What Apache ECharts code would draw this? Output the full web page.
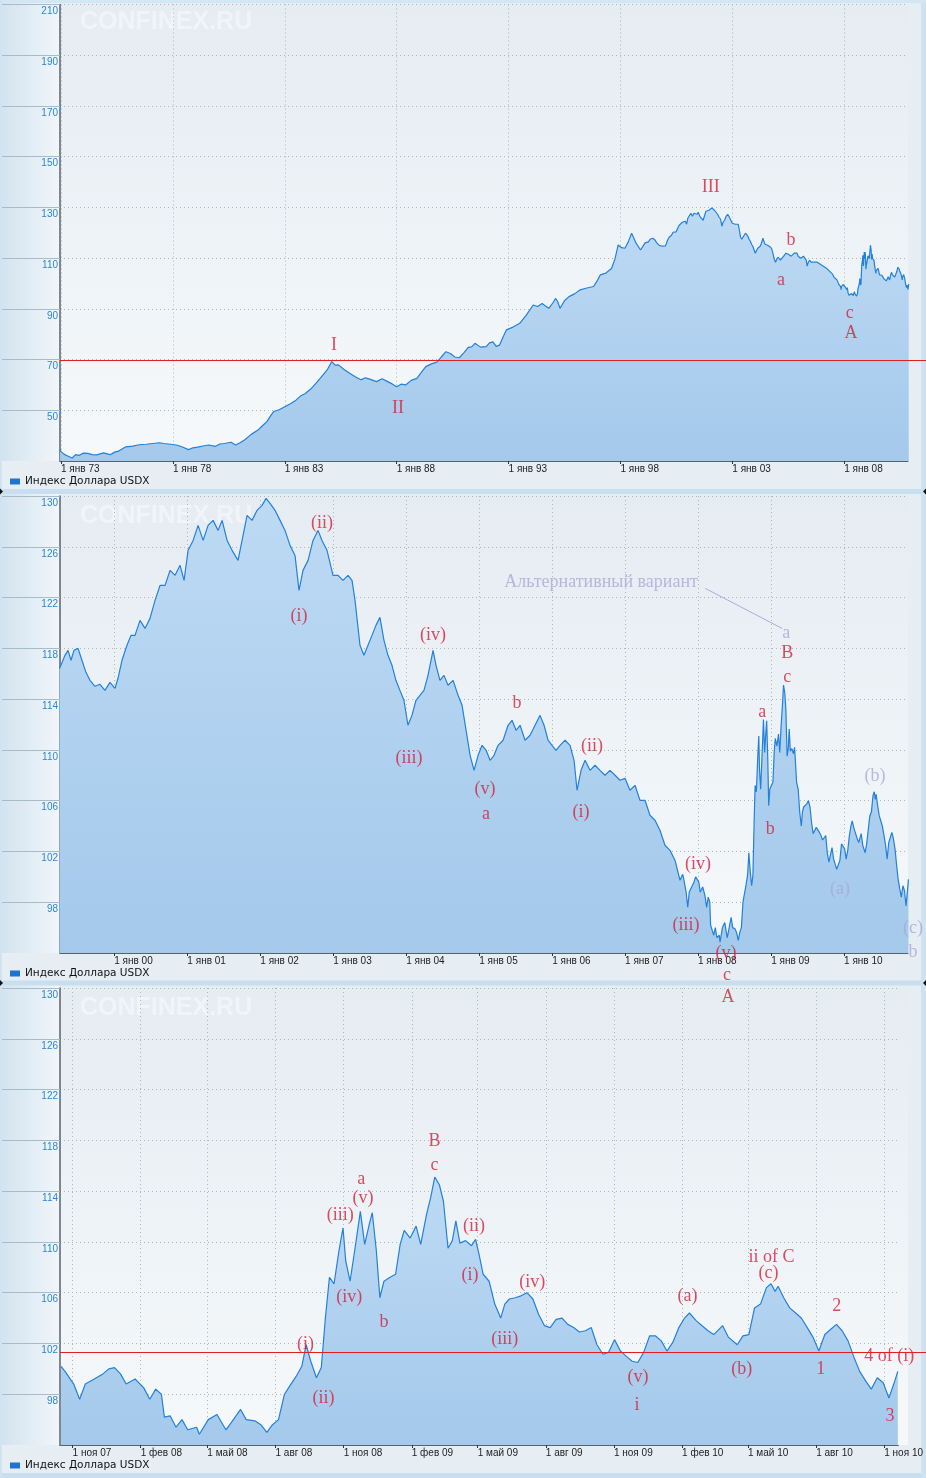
<!DOCTYPE html>
<html><head><meta charset="utf-8">
<script src="https://cdn.jsdelivr.net/npm/echarts@6/dist/echarts.min.js"></script>
<style>html,body{margin:0;padding:0;background:#e6eef4;}#c{width:926px;height:1478px;}</style>
</head><body><div id="c"></div>
<script>
// ---------------- DATA ----------------
const SERIES_NAME = 'Индекс Доллара USDX';
const MONTHS = ['янв','фев','мар','апр','май','июн','июл','авг','сен','окт','ноя','дек'];

// 1973 - 1999 (decimal years)
const longYears = [1972.96,1973.0,1973.15,1973.3,1973.5,1973.65,1973.8,1974.0,1974.2,1974.4,1974.6,1974.9,1975.2,1975.4,1975.6,1975.9,1976.2,1976.5,1976.8,1977.1,1977.4,1977.6,1978.0,1978.2,1978.4,1978.7,1978.9,1979.1,1979.4,1979.6,1979.9,1980.1,1980.3,1980.6,1980.8,1981.0,1981.2,1981.5,1981.8,1982.0,1982.2,1982.35,1982.5,1982.75,1983.0,1983.25,1983.5,1983.7,1983.9,1984.2,1984.45,1984.7,1984.9,1985.1,1985.25,1985.4,1985.65,1985.9,1986.15,1986.4,1986.6,1986.8,1987.1,1987.35,1987.6,1987.8,1988.0,1988.2,1988.4,1988.65,1988.9,1989.1,1989.3,1989.55,1989.8,1990.0,1990.2,1990.4,1990.6,1990.8,1991.0,1991.2,1991.35,1991.5,1991.75,1992.0,1992.15,1992.3,1992.45,1992.6,1992.75,1992.9,1993.2,1993.5,1993.8,1994.1,1994.3,1994.5,1994.65,1994.8,1995.0,1995.1,1995.2,1995.3,1995.5,1995.7,1995.95,1996.2,1996.5,1996.8,1996.95,1997.1,1997.35,1997.6,1997.75,1997.9,1998.05,1998.2,1998.35,1998.5,1998.7,1998.9,1999.1];
const longValues = [34.6,33.7,32.6,32.0,31.2,32.5,32.2,33.1,33.0,32.5,32.4,33.2,32.5,33.5,34.0,35.6,35.9,36.4,36.6,36.9,37.2,36.9,36.5,36.2,35.6,34.5,35.2,35.5,36.0,36.3,35.8,36.7,36.9,37.4,36.3,37.2,38.3,40.5,42.2,43.9,45.5,47.6,49.5,50.2,51.4,52.6,54.0,55.6,56.5,58.7,61.2,63.9,66.0,69.2,67.8,67.9,66.1,64.6,63.2,62.0,62.8,62.3,61.3,62.4,61.3,60.4,59.3,60.3,60.0,61.8,62.6,64.9,67.2,68.3,69.0,71.1,73.1,72.4,71.0,70.7,72.6,74.8,75.0,76.4,74.9,75.1,76.6,77.0,75.2,75.7,78.8,81.7,82.8,84.3,87.6,91.5,90.9,92.1,91.1,90.2,92.6,94.1,92.8,90.2,93.2,94.8,95.9,97.5,98.2,98.8,100.9,103.4,104.1,105.9,109.5,115.2,114.1,113.9,116.4,119.8,115.9,113.2,116.0];

// 1999 - 2007 (decimal years)
const midYears = [1999.250,1999.324,1999.366,1999.407,1999.448,1999.503,1999.557,1999.612,1999.667,1999.736,1999.804,1999.873,1999.941,2000.010,2000.051,2000.106,2000.174,2000.229,2000.284,2000.352,2000.421,2000.489,2000.558,2000.626,2000.695,2000.763,2000.832,2000.900,2000.955,2001.010,2001.079,2001.147,2001.216,2001.284,2001.353,2001.421,2001.476,2001.545,2001.613,2001.695,2001.750,2001.819,2001.887,2001.956,2002.024,2002.079,2002.134,2002.202,2002.271,2002.339,2002.408,2002.476,2002.531,2002.586,2002.655,2002.723,2002.792,2002.846,2002.915,2002.997,2003.066,2003.134,2003.203,2003.258,2003.299,2003.367,2003.422,2003.477,2003.532,2003.586,2003.641,2003.696,2003.751,2003.806,2003.860,2003.915,2003.970,2004.025,2004.080,2004.135,2004.189,2004.244,2004.299,2004.368,2004.409,2004.463,2004.518,2004.573,2004.642,2004.710,2004.765,2004.820,2004.875,2004.929,2004.984,2005.039,2005.094,2005.149,2005.203,2005.258,2005.327,2005.395,2005.450,2005.505,2005.560,2005.628,2005.697,2005.765,2005.834,2005.889,2005.944,2005.998,2006.053,2006.108,2006.177,2006.245,2006.300,2006.341,2006.396,2006.451,2006.519,2006.588,2006.656,2006.725,2006.793,2006.862,2006.930,2006.999,2007.067,2007.136,2007.204,2007.273,2007.341,2007.410,2007.478,2007.547,2007.616,2007.684,2007.753];
const midValues = [116.4,117.45,117.84,117.06,117.84,118.0,117.06,116.11,115.48,115.01,115.17,114.69,115.32,114.85,115.64,117.06,118.24,119.02,119.02,120.2,119.57,120.36,121.78,122.96,122.96,124.14,123.75,124.54,123.35,125.72,126.5,127.69,126.5,127.69,128.08,127.29,128.08,126.5,125.72,124.93,126.5,128.47,128.08,128.87,129.26,129.81,129.42,128.87,128.08,127.29,126.11,125.32,122.57,124.14,124.93,126.5,127.29,126.5,125.72,123.75,123.75,123.35,123.75,123.35,121.78,118.24,117.45,118.24,119.02,119.81,120.44,118.63,117.45,116.66,115.48,114.69,113.91,111.94,112.72,113.91,114.3,114.69,115.87,117.84,116.66,115.48,115.87,115.09,115.48,114.3,113.51,111.54,109.57,108.39,109.57,110.36,109.97,109.18,109.57,110.36,110.76,111.94,112.33,111.54,111.94,110.76,111.15,111.94,112.72,111.94,110.76,110.36,109.97,110.36,110.76,110.36,109.18,106.82,108.39,109.18,108.39,108.79,108.39,108.0,108.39,108.0,107.61,107.76,106.82,107.21,106.03,106.03,104.85,104.46,103.67,102.49,102.09,101.31,99.73];

// Oct 2007 - Nov 2010 (decimal years)
const shortYears = [2007.790,2007.805,2007.837,2007.859,2007.880,2007.913,2007.945,2007.967,2007.988,2008.010,2008.031,2008.064,2008.096,2008.118,2008.140,2008.161,2008.172,2008.193,2008.215,2008.237,2008.258,2008.291,2008.301,2008.334,2008.366,2008.399,2008.420,2008.453,2008.474,2008.507,2008.528,2008.550,2008.571,2008.593,2008.615,2008.636,2008.658,2008.679,2008.695,2008.712,2008.733,2008.751,2008.766,2008.781,2008.798,2008.816,2008.831,2008.841,2008.857,2008.874,2008.895,2008.911,2008.928,2008.939,2008.954,2008.967,2008.982,2009.003,2009.025,2009.042,2009.057,2009.079,2009.101,2009.118,2009.140,2009.155,2009.170,2009.187,2009.202,2009.219,2009.235,2009.248,2009.263,2009.284,2009.306,2009.321,2009.334,2009.349,2009.371,2009.392,2009.414,2009.429,2009.446,2009.468,2009.489,2009.511,2009.533,2009.554,2009.576,2009.597,2009.619,2009.641,2009.662,2009.684,2009.705,2009.727,2009.749,2009.770,2009.792,2009.813,2009.835,2009.857,2009.878,2009.900,2009.921,2009.943,2009.965,2009.986,2010.008,2010.029,2010.051,2010.073,2010.094,2010.112,2010.137,2010.159,2010.181,2010.202,2010.235,2010.256,2010.289,2010.310,2010.332,2010.353,2010.375,2010.397,2010.414,2010.429,2010.440,2010.461,2010.483,2010.505,2010.526,2010.548,2010.569,2010.591,2010.613,2010.634,2010.656,2010.677,2010.699,2010.721,2010.742,2010.764,2010.785,2010.807,2010.829,2010.850,2010.868,2010.883];
const shortValues = [100.2,99.8,98.8,97.6,98.8,99.2,99.6,100.0,100.1,99.6,98.8,99.2,98.5,97.6,98.4,98.0,96.2,96.3,95.4,96.0,95.2,95.4,94.85,96.0,96.4,95.2,95.8,96.8,96.0,95.9,95.6,95.0,95.6,96.0,98.0,98.7,99.4,100.2,101.9,100.6,99.3,100.1,104.0,107.2,106.7,109.3,111.1,108.5,106.9,109.3,112.4,109.8,111.4,112.3,109.3,105.6,106.9,107.2,107.45,109.8,110.9,110.3,111.25,109.8,112.2,113.5,115.1,114.5,113.2,109.5,110.1,111.65,109.9,110.1,109.7,110.2,109.0,107.45,106.9,105.1,104.0,105.1,105.5,105.6,105.75,106.0,105.5,104.3,103.4,103.25,103.9,104.0,103.5,103.25,102.9,103.0,103.25,101.9,101.15,101.3,102.3,101.4,101.0,100.6,100.5,101.3,102.6,102.6,102.2,101.4,102.1,103.25,104.0,104.4,103.8,103.4,103.0,102.7,103.4,102.5,101.9,102.6,102.7,104.8,105.1,106.4,106.7,106.1,106.5,105.6,104.8,104.4,104.0,103.25,102.5,101.4,102.7,103.1,103.5,103.0,102.2,100.9,99.8,99.05,98.4,99.3,98.9,97.7,98.8,99.8];

// tick labels
const xTicks1 = [1973,1978,1983,1988,1993,1998,2003,2008];
const xTicks2 = [2000,2001,2002,2003,2004,2005,2006,2007,2008,2009,2010];
const xTicks3 = ['2007-11-01','2008-02-01','2008-05-01','2008-08-01','2008-11-01','2009-02-01','2009-05-01','2009-08-01','2009-11-01','2010-02-01','2010-05-01','2010-08-01','2010-11-01'];
const yTicks1 = [50,70,90,110,130,150,170,190,210];
const yTicks23 = [98,102,106,110,114,118,122,126,130];
const redLevels = [70, null, 101.3];

// wave annotations: [decimal year, value, text, alt?]
const ann1 = [[2002.04,138.1,'III'],[1985.20,75.8,'I'],[1988.06,50.9,'II'],[2005.62,117.2,'b'],[2005.17,101.4,'a'],[2008.25,88.4,'c'],[2008.30,80.5,'A']];
const ann2 = [[2002.846,127.84,'(ii)'],[2002.531,120.5,'(i)'],[2004.368,119.02,'(iv)'],[2004.039,109.34,'(iii)'],[2005.080,106.9,'(v)'],[2005.094,104.93,'a'],[2005.519,113.67,'b'],[2006.547,110.28,'(ii)'],[2006.396,105.09,'(i)'],[2007.999,100.99,'(iv)'],[2007.835,96.19,'(iii)'],[2008.384,93.98,'(v)'],[2008.397,92.25,'c'],[2008.411,90.52,'A'],[2008.877,112.96,'a'],[2008.987,103.75,'b'],[2009.220,115.72,'c'],[2009.220,117.61,'B'],[2009.206,119.18,'a',1],[2006.67,123.2,'Альтернативный вариант',1],[2010.425,107.92,'(b)',1],[2009.946,99.02,'(a)',1],[2010.945,95.95,'(c)',1],[2010.945,94.06,'b',1]];
const altConnector = [[2008.10,122.72],[2009.15,119.57]];
const ann3 = [[2009.169,117.9,'B'],[2009.169,116.0,'c'],[2008.898,114.9,'a'],[2008.905,113.4,'(v)'],[2008.821,112.1,'(iii)'],[2008.854,105.6,'(iv)'],[2008.982,103.7,'b'],[2009.315,111.2,'(ii)'],[2009.300,107.4,'(i)'],[2009.531,106.8,'(iv)'],[2009.429,102.3,'(iii)'],[2008.693,101.9,'(i)'],[2008.759,97.7,'(ii)'],[2009.922,99.3,'(v)'],[2009.918,97.1,'i'],[2010.105,105.7,'(a)'],[2010.306,100.0,'(b)'],[2010.416,108.8,'ii of C'],[2010.405,107.5,'(c)'],[2010.598,100.0,'1'],[2010.657,104.9,'2'],[2010.851,101.0,'4 of (i)'],[2010.854,96.3,'3']];

// ---------------- HELPERS ----------------
function yr(d){const y=Math.floor(d);const a=Date.UTC(y,0,1),b=Date.UTC(y+1,0,1);return a+(d-y)*(b-a);}
function pairs(ys,vs){return ys.map((y,i)=>[yr(y),vs[i]]);}
function fmtDate(v){const d=new Date(Math.round(v/86400000)*86400000);return '1 '+MONTHS[d.getUTCMonth()]+' '+String(d.getUTCFullYear()%100).padStart(2,'0');}

const allData = pairs(longYears.concat(midYears,shortYears), longValues.concat(midValues,shortValues));
const midData = pairs(midYears.concat(shortYears), midValues.concat(shortValues));
const shortData = pairs(shortYears, shortValues);

const RED='#d3223a', LAV='#aaa7d6';
const panels = [
  {block:0, top:4.5, h:456.5, xmin:yr(1972.955), xmax:yr(2010.85), ymin:30, ymax:210, yt:yTicks1, xt:xTicks1.map(y=>Date.UTC(y,0,1)), data:allData, ann:ann1, legendTop:476},
  {block:494, top:496, h:457, xmin:yr(1999.256), xmax:yr(2010.877), ymin:94, ymax:130, yt:yTicks23, xt:xTicks2.map(y=>Date.UTC(y,0,1)), data:midData, ann:ann2, legendTop:968},
  {block:985.5, top:988, h:457, xmin:Date.UTC(2007,9,15), xmax:Date.UTC(2010,10,20), ymin:94, ymax:130, yt:yTicks23, xt:xTicks3.map(s=>Date.parse(s+'T00:00:00Z')), data:shortData, ann:ann3, legendTop:1460}
];

const GRID_L=60, GRID_W=848;
const chart = echarts.init(document.getElementById('c'), null, {renderer:'canvas'});

const grids = panels.map(p=>({left:GRID_L, top:p.top, width:GRID_W, height:p.h, containLabel:false}));
const dotted = {color:'#aab6c0', width:1, type:[1,3]};
const xAxes = panels.map((p,i)=>({
  type:'value', gridIndex:i, min:p.xmin, max:p.xmax, scale:true,
  axisLine:{show:true, onZero:false, lineStyle:{color:'#56636f', width:1.2}},
  axisTick:{show:true, customValues:p.xt, length:3, lineStyle:{color:'#333'}},
  axisLabel:{show:true, customValues:p.xt, formatter:fmtDate, color:'#222', fontSize:10, fontFamily:'Liberation Sans', align:'left', margin:3, hideOverlap:false},
  splitLine:{show:true, lineStyle:dotted}
}));
const yAxes = panels.map((p,i)=>({
  type:'value', gridIndex:i, min:p.ymin, max:p.ymax,
  axisLine:{show:true, onZero:false, lineStyle:{color:'#56636f', width:1.5}},
  axisTick:{show:true, customValues:p.yt, length:58, lineStyle:{color:'#a7bccb'}},
  axisLabel:{show:true, customValues:p.yt, color:'#2d86d8', fontSize:10, fontFamily:'Liberation Sans', margin:2, verticalAlign:'top', padding:[2,0,0,0]},
  splitLine:{show:true, lineStyle:dotted}
}));

const areaGrad = new echarts.graphic.LinearGradient(0,0,0,1,[{offset:0,color:'#bddaf4'},{offset:1,color:'#a4c9eb'}]);
const series = [];
panels.forEach((p,i)=>{
  series.push({
    type:'line', name:SERIES_NAME, xAxisIndex:i, yAxisIndex:i, data:p.data,
    showSymbol:false, symbol:'none', color:'#1d74cc',
    lineStyle:{color:'#2381da', width:1.2}, areaStyle:{color:areaGrad, opacity:1},
    silent:true, z:3
  });
  const annSeries = {
    type:'scatter', name:'ann'+i, xAxisIndex:i, yAxisIndex:i, clip:false, silent:true, z:10,
    symbolSize:1, itemStyle:{color:'rgba(0,0,0,0)'},
    label:{show:true, position:'inside', fontFamily:'Liberation Serif', fontSize:18},
    data:p.ann.map(a=>({value:[yr(a[0]),a[1]], label:{formatter:a[2], color:a[3]?LAV:RED}}))
  };
  if(i===1){
    annSeries.markLine = {symbol:'none', silent:true, label:{show:false}, lineStyle:{color:'#9c9ccc', width:0.8, type:'solid'},
      data:[[{coord:[yr(altConnector[0][0]),altConnector[0][1]]},{coord:[yr(altConnector[1][0]),altConnector[1][1]]}]]};
  }
  series.push(annSeries);
});

const legends = panels.map(p=>({
  data:[SERIES_NAME], left:10, top:p.legendTop, icon:'rect', itemWidth:10, itemHeight:6, padding:0,
  selectedMode:false, textStyle:{fontFamily:'DejaVu Sans', fontSize:10.5, color:'#111'}
}));

// background drawing
const gfx = [];
gfx.push({type:'rect', z:-100, shape:{x:0,y:0,width:926,height:1478}, style:{fill:'#e6eef4'}});
panels.forEach((p,i)=>{
  gfx.push({type:'rect', z:-99, shape:{x:0,y:p.block,width:GRID_L,height:p.top+p.h-p.block}, style:{fill:new echarts.graphic.LinearGradient(0,0,1,0,[{offset:0,color:'#d2e3ef'},{offset:1,color:'#f1f6fa'}])}});
  gfx.push({type:'rect', z:-99, shape:{x:GRID_L,y:p.top,width:GRID_W,height:p.h}, style:{fill:new echarts.graphic.LinearGradient(0,0,0,1,[{offset:0,color:'#e5ecf2'},{offset:1,color:'#f6f9fb'}])}});
  gfx.push({type:'text', z:-98, x:80, y:p.block+10, style:{text:'CONFINEX.RU', font:'bold 25px "Liberation Sans"', fill:'rgba(250,252,253,0.55)', shadowColor:'rgba(140,160,180,0.25)', shadowBlur:1, shadowOffsetX:1, shadowOffsetY:1}});
});
[[489,5],[980.5,5],[1473,5]].forEach(s=>gfx.push({type:'rect', z:-97, shape:{x:0,y:s[0],width:926,height:s[1]}, style:{fill:'#c8dff0'}}));
gfx.push({type:'rect', z:-97, shape:{x:921,y:0,width:5,height:1478}, style:{fill:'#cde3f2'}});
gfx.push({type:'rect', z:-97, shape:{x:0,y:0,width:926,height:3}, style:{fill:'#d2e6f4'}});
gfx.push({type:'rect', z:-97, shape:{x:0,y:0,width:2,height:1478}, style:{fill:'#cfe3f1'}});
[491.5,983].forEach(y=>{
  gfx.push({type:'polygon', z:-96, shape:{points:[[0,y-3],[3,y],[0,y+3]]}, style:{fill:'#111'}});
  gfx.push({type:'polygon', z:-96, shape:{points:[[926,y-3],[923,y],[926,y+3]]}, style:{fill:'#111'}});
});

chart.setOption({
  animation:false, backgroundColor:'#e6eef4',
  grid:grids, xAxis:xAxes, yAxis:yAxes, series:series, legend:legends, graphic:gfx
});

// red horizontal levels, positioned through the axes' scales
const extra = [];
redLevels.forEach((lv,i)=>{
  if(lv==null) return;
  const pt = chart.convertToPixel({xAxisIndex:i, yAxisIndex:i}, [panels[i].xmin, lv]);
  const y = Math.round(pt[1]) + 0.5;
  extra.push({type:'line', z:50, zlevel:0, shape:{x1:GRID_L, y1:y, x2:926, y2:y}, style:{stroke:'#e02020', lineWidth:1}});
});
chart.setOption({graphic:gfx.concat(extra)});
</script></body></html>
